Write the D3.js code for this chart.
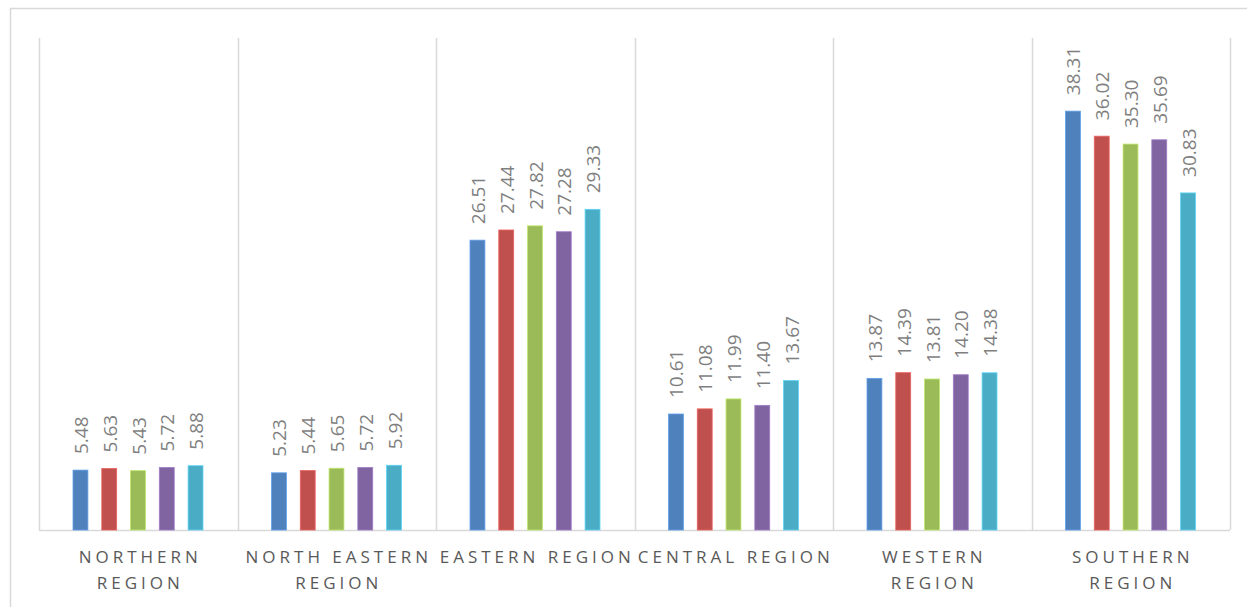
<!DOCTYPE html>
<html>
<head>
<meta charset="utf-8">
<script src="https://cdn.jsdelivr.net/npm/d3@7"></script>
<style>
  html, body { margin: 0; padding: 0; background: #fff; }
  svg { display: block; }
</style>
</head>
<body>
<svg id="chart" width="1247" height="607"></svg>
<script>
const categories = ["NORTHERN REGION", "NORTH EASTERN REGION", "EASTERN REGION", "CENTRAL REGION", "WESTERN REGION", "SOUTHERN REGION"];
const categoryLines = [["NORTHERN", "REGION"], ["NORTH EASTERN", "REGION"], ["EASTERN REGION"], ["CENTRAL REGION"], ["WESTERN", "REGION"], ["SOUTHERN", "REGION"]];
const seriesNames = ["S1", "S2", "S3", "S4", "S5"];
const series1 = [5.48, 5.23, 26.51, 10.61, 13.87, 38.31];
const series2 = [5.63, 5.44, 27.44, 11.08, 14.39, 36.02];
const series3 = [5.43, 5.65, 27.82, 11.99, 13.81, 35.30];
const series4 = [5.72, 5.72, 27.28, 11.40, 14.20, 35.69];
const series5 = [5.88, 5.92, 29.33, 13.67, 14.38, 30.83];
const seriesValues = [series1, series2, series3, series4, series5];
const colors = ["#4F81BD", "#C0504D", "#9BBB59", "#8064A2", "#4BACC6"];

const FONT = "'Open Sans', 'Noto Sans', sans-serif";
const svg = d3.select("#chart");

// outer chart border
svg.append("rect").attr("x", 10.5).attr("y", 8.5).attr("width", 1250).attr("height", 610)
  .attr("fill", "none").attr("stroke", "#d9d9d9").attr("stroke-width", 1.5);

const pLeft = 39, pRight = 1230, pTop = 38, pBottom = 530;
const x0 = d3.scaleBand().domain(categories).range([pLeft, pRight]).padding(0);
const x1 = d3.scaleBand().domain(seriesNames).range([34, 164]).paddingInner(0.93/1.93).paddingOuter(0);
const y = d3.scaleLinear().domain([0, 45]).range([pBottom, pTop]);

// category separators (vertical gridlines)
const edges = categories.map(c => x0(c)).concat([pRight]);
svg.append("g").selectAll("line").data(edges).join("line")
  .attr("x1", d => Math.round(d) + 0.5).attr("x2", d => Math.round(d) + 0.5)
  .attr("y1", pTop).attr("y2", pBottom)
  .attr("stroke", "#d9d9d9").attr("stroke-width", 1.5);

// baseline
svg.append("line").attr("x1", pLeft).attr("x2", pRight).attr("y1", pBottom + 0.5).attr("y2", pBottom + 0.5)
  .attr("stroke", "#d9d9d9").attr("stroke-width", 1.5);

const groups = svg.append("g").selectAll("g").data(categories).join("g")
  .attr("transform", d => `translate(${x0(d)},0)`);

groups.each(function(cat, ci) {
  const g = d3.select(this);
  seriesNames.forEach((s, si) => {
    const v = seriesValues[si][ci];
    g.append("rect")
      .attr("x", x1(s)).attr("width", x1.bandwidth())
      .attr("y", y(v)).attr("height", pBottom - y(v))
      .attr("fill", colors[si])
      .attr("stroke", d3.color(colors[si]).brighter(0.6)).attr("stroke-width", 0.8);
    const cx = x1(s) + x1.bandwidth() / 2;
    g.append("text")
      .attr("transform", `translate(${cx + 7.5},${y(v) - 16}) rotate(-90)`)
      .attr("text-anchor", "start")
      .attr("font-family", FONT)
      .attr("font-size", 19)
      .attr("fill", "#7f7f7f")
      .text(v.toFixed(2));
  });
});

// category labels
const labels = svg.append("g");
categories.forEach((c, i) => {
  const cx = x0(c) + x0.bandwidth() / 2;
  categoryLines[i].forEach((line, li) => {
    labels.append("text")
      .attr("x", cx + 2).attr("y", 563 + li * 26)
      .attr("text-anchor", "middle")
      .attr("font-family", FONT)
      .attr("font-size", 17)
      .attr("letter-spacing", "4px")
      .attr("fill", "#595959")
      .text(line);
  });
});
</script>
</body>
</html>
